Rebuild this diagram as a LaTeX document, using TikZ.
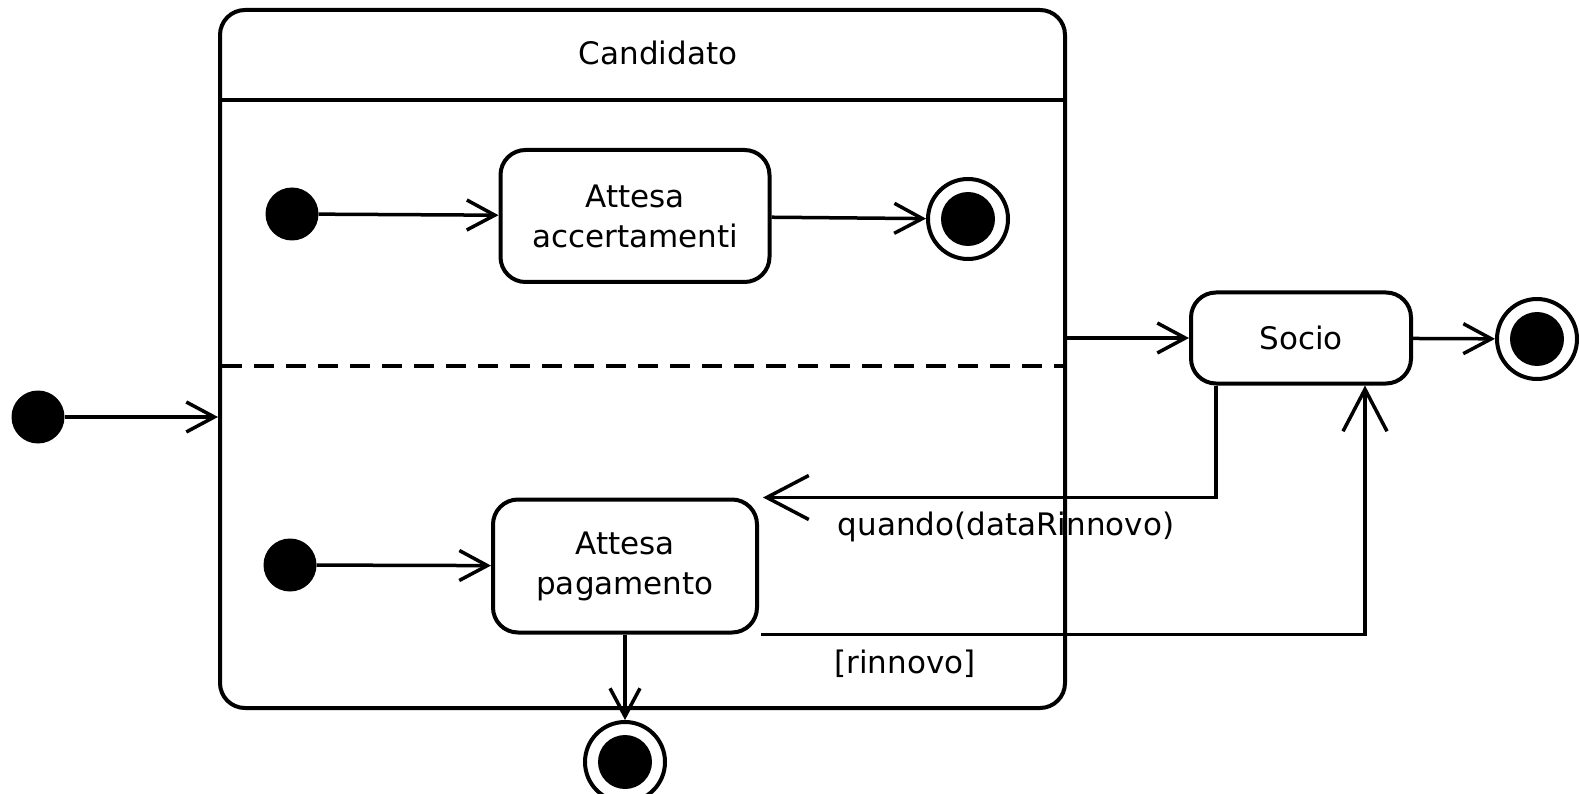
\documentclass[tikz,border=0pt]{standalone}
\usepackage{fontspec}
\setmainfont{DejaVu Sans}
\usetikzlibrary{arrows.meta}

\tikzset{
  state/.style={draw, rounded corners=25pt, line width=4pt, align=center,
    inner sep=0pt, font=\fontsize{31}{40}\selectfont},
  initst/.style={circle, fill, minimum size=53pt, inner sep=0pt},
  finalst/.style={circle, draw, line width=4pt, minimum size=80pt, inner sep=0pt,
    path picture={\fill (path picture bounding box.center) circle (27pt);}},
  trans/.style={line width=3.5pt, -{Straight Barb[length=28pt,width=30pt]}},
  bigtrans/.style={line width=3.5pt, -{Straight Barb[length=42pt,width=44pt]}},
  lbl/.style={font=\fontsize{31}{40}\selectfont, inner sep=0pt}
}

\begin{document}
\begin{tikzpicture}[x=1pt, y=-1pt]
  \useasboundingbox (0,0) rectangle (1580,794);

  % composite state with two concurrent regions
  \node[state, minimum width=845pt, minimum height=698pt] (cand) at (642.5,359) {};
  \draw[line width=4pt] (cand.west |- 0,100) -- (cand.east |- 0,100);
  \node[lbl] (title) at (658,53) {Candidato};
  \draw[line width=3.5pt, dash pattern=on 20pt off 12pt] (222,366) -- (1063,366);

  % outer initial state
  \node[initst] (i0) at (38,417) {};
  \draw[trans] (i0) -- (i0 -| cand.west);

  % upper region
  \node[initst] (i1) at (292,214) {};
  \node[state, minimum width=269pt, minimum height=132pt] (acc) at (635,216) {Attesa\\accertamenti};
  \node[finalst] (f1) at (968,219) {};
  \draw[trans] (i1) -- (acc);
  \draw[trans] (acc) -- (f1);

  % lower region
  \node[initst] (i2) at (290,565) {};
  \node[state, minimum width=264pt, minimum height=133pt] (pag) at (625,566) {Attesa\\pagamento};
  \node[finalst] (f2) at (625,762) {};
  \draw[trans] (i2) -- (pag);
  \draw[trans] (pag) -- (f2);

  % member state
  \node[state, minimum width=220pt, minimum height=91pt] (soc) at (1301,338) {Socio};
  \node[finalst] (f3) at (1537,339) {};
  \draw[trans] (cand.east |- soc) -- (soc);
  \draw[trans] (soc) -- (f3);

  % renewal transitions
  \draw[bigtrans] ([xshift=-85pt]soc.south) |- ([xshift=4pt]pag.north east);
  \node[lbl] (lq) at (1006,527) {quando(dataRinnovo)};
  \draw[bigtrans] ([xshift=2pt]pag.south east) -| ([xshift=64pt]soc.south);
  \node[lbl] (lr) at (905,664) {[rinnovo]};
\end{tikzpicture}
\end{document}
